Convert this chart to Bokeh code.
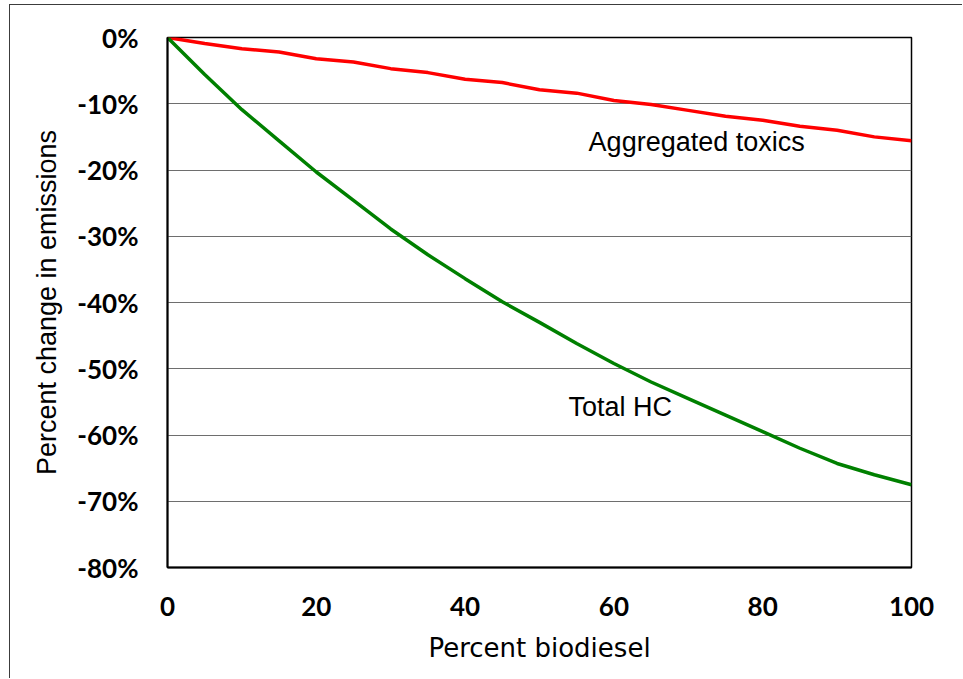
from bokeh.plotting import figure
from bokeh.models import FixedTicker, PrintfTickFormatter, Label, Range1d
from bokeh.embed import file_html
from bokeh.resources import INLINE

# ---- data ----
biodiesel_pct = [0, 5, 10, 15, 20, 25, 30, 35, 40, 45, 50,
                 55, 60, 65, 70, 75, 80, 85, 90, 95, 100]
aggregated_toxics = [0, -0.9, -1.7, -2.2, -3.2, -3.7, -4.7, -5.3, -6.3, -6.8, -7.9,
                     -8.4, -9.5, -10.1, -11.0, -11.9, -12.5, -13.4, -14.0, -15.0, -15.6]
total_hc = [0, -5.6, -10.9, -15.6, -20.3, -24.6, -28.9, -32.8, -36.4, -39.9, -43.0,
            -46.2, -49.2, -52.0, -54.5, -57.0, -59.5, -62.0, -64.3, -66.0, -67.5]
x_ticks = [0, 20, 40, 60, 80, 100]
y_ticks = [0, -10, -20, -30, -40, -50, -60, -70, -80]
series_names = ["Aggregated toxics", "Total HC"]

p = figure(frame_width=744, frame_height=530, output_backend="svg", toolbar_location=None,
           x_range=Range1d(0, 100), y_range=Range1d(-80, 0),
           min_border_left=157, min_border_top=32, min_border_right=51,
           min_border_bottom=111)
p.styles = {"border-left": "1px solid #3c3c3c", "border-top": "1px solid #3c3c3c",
            "margin-left": "9px", "margin-top": "4px"}

p.outline_line_color = "black"
p.outline_line_width = 1.5
p.background_fill_color = "white"
p.border_fill_color = "white"

p.xgrid.grid_line_color = None
p.ygrid.grid_line_color = "#6e6e6e"
p.ygrid.grid_line_width = 1.2
p.ygrid.ticker = FixedTicker(ticks=y_ticks)

for ax in (p.xaxis[0], p.yaxis[0]):
    ax.major_tick_line_color = None
    ax.minor_tick_line_color = None
    ax.axis_line_color = "black"
    ax.axis_line_width = 2
    ax.major_label_text_font = "Lato"
    ax.major_label_text_font_style = "bold"
    ax.major_label_text_font_size = "26px"
    ax.major_label_text_color = "black"
    ax.major_label_standoff = 23
    ax.axis_label_text_font_style = "normal"
    ax.axis_label_text_color = "black"

p.xaxis.ticker = FixedTicker(ticks=x_ticks)
p.yaxis.ticker = FixedTicker(ticks=y_ticks)
p.yaxis.formatter = PrintfTickFormatter(format="%d%%")

p.xaxis.axis_label = "Percent biodiesel"
p.xaxis.axis_label_text_font = "DejaVu Sans"
p.xaxis.axis_label_text_font_size = "26px"
p.xaxis.axis_label_standoff = 14

p.yaxis.axis_label = "Percent change in emissions"
p.yaxis.axis_label_text_font = "Liberation Sans"
p.yaxis.axis_label_text_font_size = "27px"
p.yaxis.axis_label_standoff = 12

p.line(biodiesel_pct, aggregated_toxics, line_color="#ff0000", line_width=3.5)
p.line(biodiesel_pct, total_hc, line_color="#008000", line_width=3.5)

p.add_layout(Label(x=56.6, y=-15.8, text=series_names[0], text_font="Liberation Sans",
                   text_font_size="27px", text_baseline="middle", text_align="left",
                   text_color="black"))
p.add_layout(Label(x=53.9, y=-55.8, text=series_names[1], text_font="Liberation Sans",
                   text_font_size="27px", text_baseline="middle", text_align="left",
                   text_color="black"))

open("out.html", "w").write(file_html(p, INLINE))
